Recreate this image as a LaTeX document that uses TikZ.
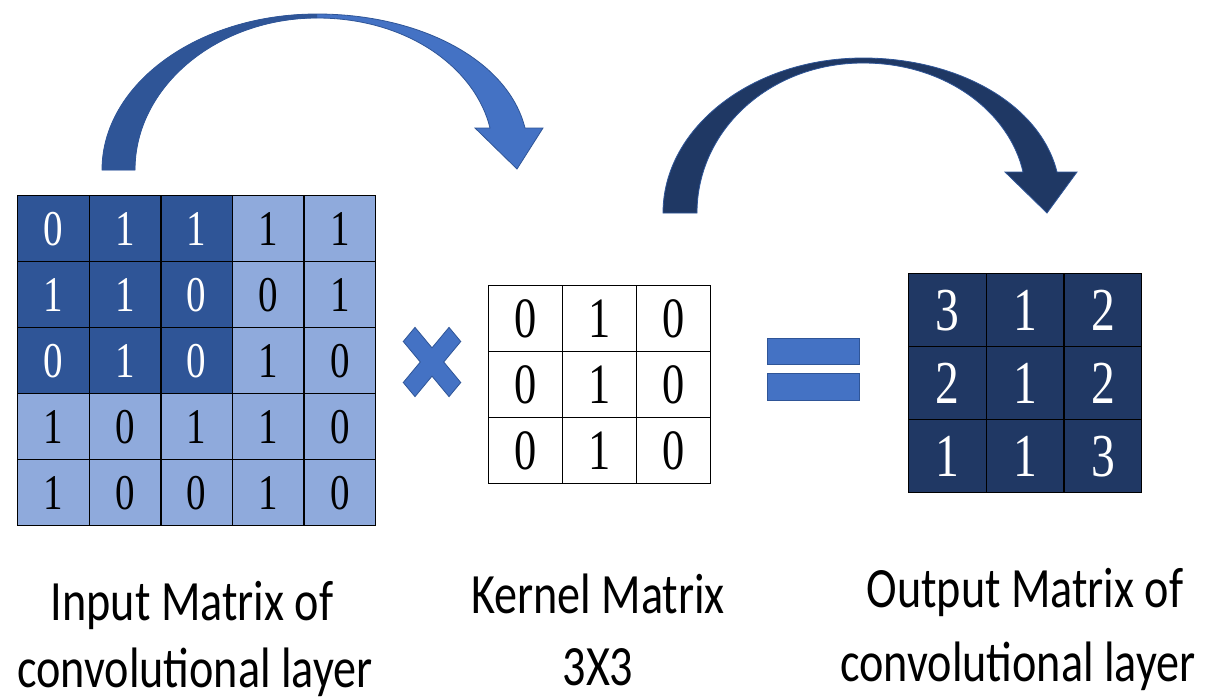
\documentclass[tikz,border=0pt]{standalone}
\usepackage{fontspec}
\usepackage{graphicx}
\setmainfont{Liberation Serif}
\newfontfamily\labfont{Carlito}[FakeStretch=0.81]
\newcommand\dig[1]{\scalebox{0.78}[1]{#1}}
\definecolor{dkin}{HTML}{2F5597}
\definecolor{ltin}{HTML}{8FAADC}
\definecolor{outc}{HTML}{203864}
\definecolor{arrlt}{HTML}{4472C4}
\definecolor{arrdk}{HTML}{2F5597}
\definecolor{arrnavy}{HTML}{1F3864}
\tikzset{
  gridcell/.style={draw=black, line width=1.3pt, inner sep=0pt, anchor=north west},
  incell/.style={gridcell, minimum width=71.6pt, minimum height=66pt, font=\rmfamily\fontsize{50}{50}\selectfont},
  kcell/.style={gridcell, fill=white, minimum width=74pt, minimum height=66pt, font=\rmfamily\fontsize{57}{57}\selectfont},
  ocell/.style={gridcell, fill=outc, text=white, minimum width=77.7pt, minimum height=73pt, font=\rmfamily\fontsize{61}{61}\selectfont},
  lab/.style={anchor=base, inner sep=0pt, font=\labfont\fontsize{57}{57}\selectfont},
  opsym/.style={fill=arrlt, draw=arrdk, line width=0.8pt},
}
\begin{document}
\begin{tikzpicture}[x=1pt,y=-1pt]
\useasboundingbox (0,0) rectangle (1210,699);
\fill[white] (0,0) rectangle (1210,699);

% curved arrow 1
\fill[arrlt, draw=arrdk, line width=0.8pt] (102,170) .. controls (102,84) and (198,14) .. (317,14)
  .. controls (420,14) and (508,60) .. (525,128) -- (543,128) -- (517,169) -- (475,128) -- (490,128)
  .. controls (476,70) and (410,18) .. (317,18) .. controls (218,18) and (135,86) .. (135,170) -- cycle;
\fill[arrdk] (102,170) .. controls (102,84) and (198,14) .. (317,14) -- (317,18)
  .. controls (218,18) and (135,86) .. (135,170) -- cycle;

% curved arrow 2
\fill[arrnavy, draw=arrdk, line width=0.8pt] (663,213) .. controls (663,128) and (752,58) .. (863,58)
  .. controls (958,58) and (1040,104) .. (1057,172) -- (1077,172) -- (1047,213) -- (1005,172) -- (1023,172)
  .. controls (1010,114) and (948,63) .. (863,63) .. controls (770,63) and (697,130) .. (697,213) -- cycle;

% input matrix
\foreach \row [count=\r] in {{0,1,1,1,1},{1,1,0,0,1},{0,1,0,1,0},{1,0,1,1,0},{1,0,0,1,0}}{
  \foreach \v [count=\c] in \row {
    \pgfmathsetmacro\xx{17+(\c-1)*71.6}
    \pgfmathsetmacro\yy{195+(\r-1)*66}
    \ifnum\r<4 \ifnum\c<4 \def\fc{dkin}\def\tc{white}\else\def\fc{ltin}\def\tc{black}\fi\else\def\fc{ltin}\def\tc{black}\fi
    \node[incell, fill=\fc, text=\tc] (in-\r-\c) at (\xx,\yy) {\dig{\v}};
  }
}

% multiply sign
\begin{scope}[shift={(432,362)}, xscale=0.83, rotate=45]
\path[opsym] (10,10) -- (10,39) -- (-10,39) -- (-10,10) -- (-39,10) -- (-39,-10) -- (-10,-10)
  -- (-10,-39) -- (10,-39) -- (10,-10) -- (39,-10) -- (39,10) -- cycle;
\end{scope}

% kernel matrix
\foreach \row [count=\r] in {{0,1,0},{0,1,0},{0,1,0}}{
  \foreach \v [count=\c] in \row {
    \pgfmathsetmacro\xx{488+(\c-1)*74}
    \pgfmathsetmacro\yy{285+(\r-1)*66}
    \node[kcell] (k-\r-\c) at (\xx,\yy) {\dig{\v}};
  }
}

% equals sign
\path[opsym] (767,338) rectangle (859,364);
\path[opsym] (767,373) rectangle (859,400);

% output matrix
\foreach \row [count=\r] in {{3,1,2},{2,1,2},{1,1,3}}{
  \foreach \v [count=\c] in \row {
    \pgfmathsetmacro\xx{908+(\c-1)*77.7}
    \pgfmathsetmacro\yy{273+(\r-1)*73}
    \node[ocell] (o-\r-\c) at (\xx,\yy) {\dig{\v}};
  }
}

% labels
\node[lab] (lin1) at (192,620) {Input Matrix of};
\node[lab] (lin2) at (195,687) {convolutional layer};
\node[lab] (lk1) at (598,613) {Kernel Matrix};
\node[lab] (lk2) at (598,685) {3X3};
\node[lab] (lo1) at (1025,607) {Output Matrix of};
\node[lab] (lo2) at (1018,681) {convolutional layer};
\end{tikzpicture}
\end{document}
